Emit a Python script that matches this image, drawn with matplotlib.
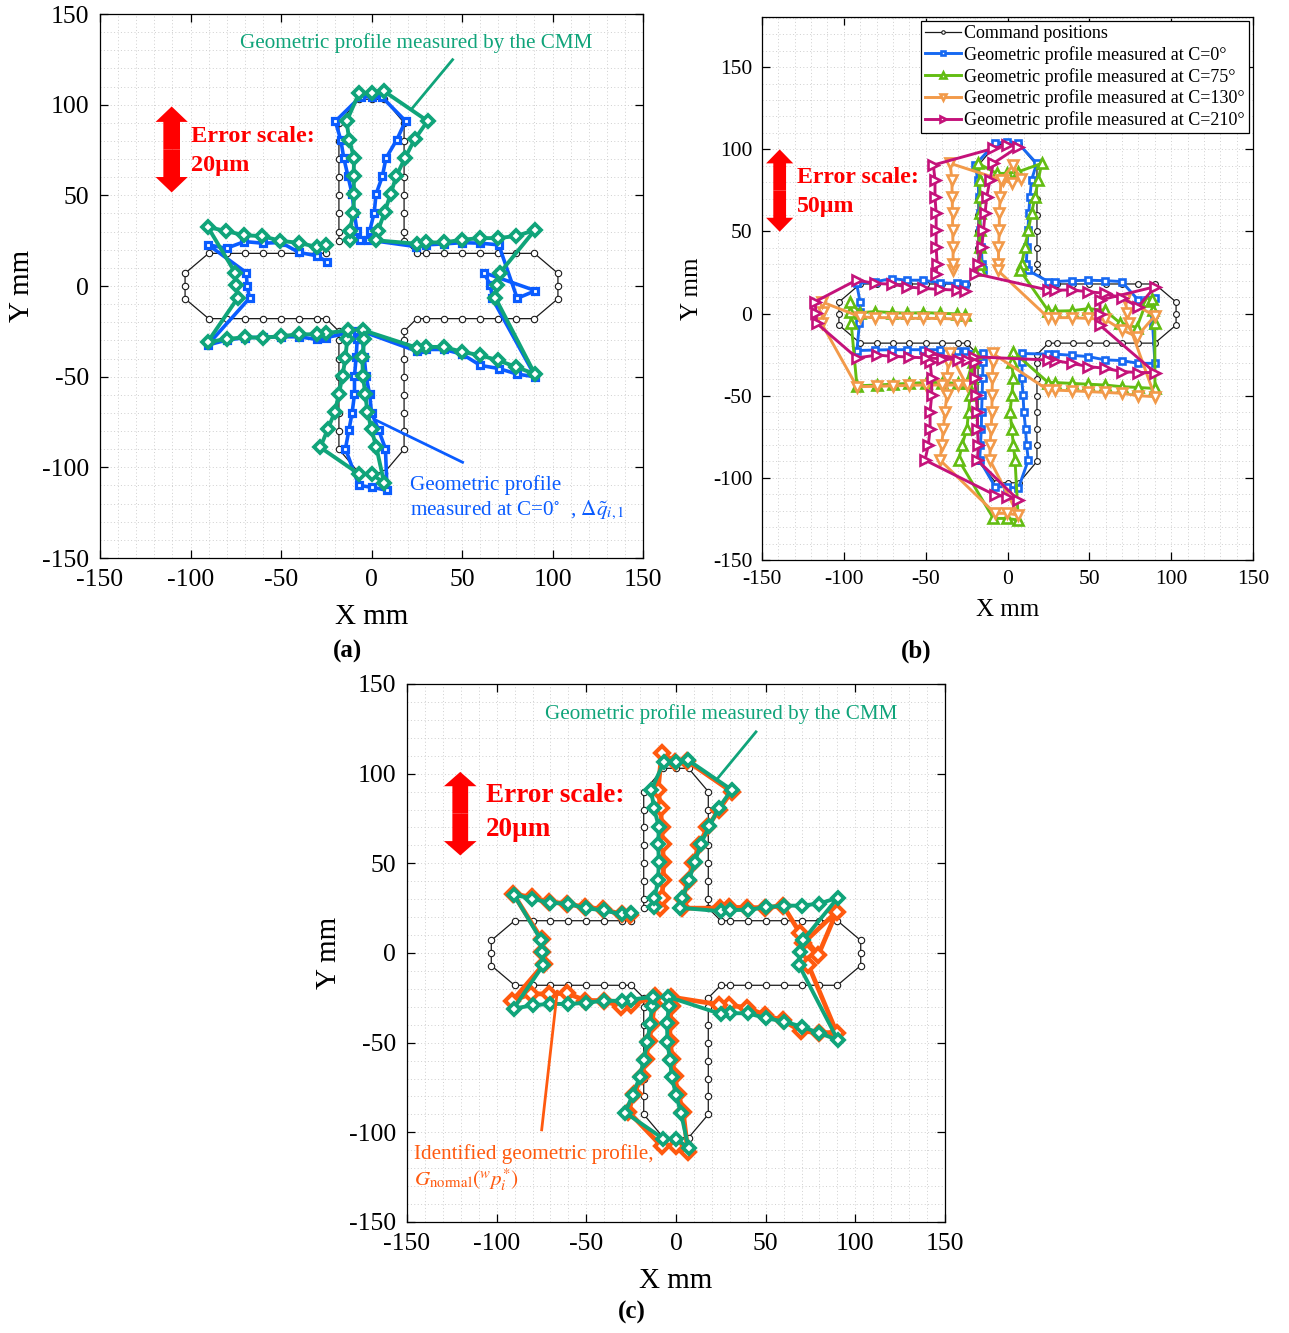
import matplotlib
matplotlib.use("Agg")
import matplotlib.pyplot as plt
from matplotlib.patches import FancyArrow
import numpy as np

plt.rcParams['font.family'] = ['Liberation Serif', 'DejaVu Serif']
plt.rcParams['mathtext.fontset'] = 'stix'
plt.rcParams['axes.unicode_minus'] = False

# ---------------------------------------------------------------- data (mm)
# Command path: top arm (left side up, tip, right side down), right arm
# (upper edge out, end cap, lower edge in), bottom arm, left arm.
CMD_X = [-18, -18, -18, -18, -18, -18, -18, -18, -7, 0, 7,
         18, 18, 18, 18, 18, 18, 18, 18,
         25, 30, 40, 50, 60, 70, 80, 90, 103, 103, 103,
         90, 80, 70, 60, 50, 40, 30, 25,
         18, 18, 18, 18, 18, 18, 18, 18, 7, 0, -7,
         -18, -18, -18, -18, -18, -18, -18, -18,
         -25, -30, -40, -50, -60, -70, -80, -90, -103, -103, -103,
         -90, -80, -70, -60, -50, -40, -30, -25]
CMD_Y = [25, 30, 40, 50, 60, 70, 80, 90, 103, 103, 103,
         90, 80, 70, 60, 50, 40, 30, 25,
         18, 18, 18, 18, 18, 18, 18, 18, 7, 0, -7,
         -18, -18, -18, -18, -18, -18, -18, -18,
         -25, -30, -40, -50, -60, -70, -80, -90, -103, -103, -103,
         -90, -80, -70, -60, -50, -40, -30, -25,
         -18, -18, -18, -18, -18, -18, -18, -18, -7, 0, 7,
         18, 18, 18, 18, 18, 18, 18, 18]

# CMM-measured profile (error-magnified), same point order as the command path
CMM_X = [-12.0, -12.0, -10.0, -9.6, -9.9, -9.6, -12.3, -13.8, -6.8, 0.2, 6.8,
         31.0, 23.8, 18.5, 13.8, 10.5, 7.3, 3.6, 2.5,
         25.0, 30.0, 40.0, 50.0, 60.0, 70.0, 80.0, 90.2, 71.0, 69.3, 68.5,
         90.2, 80.0, 70.0, 60.0, 50.0, 40.0, 30.0, 25.0,
         -4.6, -4.0, -5.0, -4.8, -3.4, -2.3, 0.0, 2.7, 7.0, 0.0, -7.0,
         -28.3, -24.2, -20.2, -18.0, -16.0, -14.4, -13.4, -12.8,
         -25.0, -30.0, -40.0, -50.0, -60.0, -70.0, -80.0, -90.6, -74.0, -74.8, -75.3,
         -90.4, -80.3, -70.5, -60.3, -50.3, -40.2, -30.1, -25.0]
CMM_Y = [25.4, 30.4, 40.5, 50.6, 60.6, 70.5, 80.7, 90.8, 106.5, 106.5, 107.5,
         91.0, 80.8, 70.6, 60.8, 50.6, 40.8, 30.5, 25.2,
         23.3, 24.0, 24.0, 25.5, 26.4, 26.4, 27.6, 30.8, 7.3, 0.6, -6.6,
         -48.5, -44.7, -41.0, -38.2, -36.3, -33.6, -33.6, -34.0,
         -24.4, -29.5, -39.2, -49.5, -59.5, -69.3, -79.1, -89.0, -108.7, -103.6, -103.6,
         -89.0, -79.1, -69.3, -59.5, -49.5, -39.5, -29.3, -24.4,
         -26.0, -26.7, -26.6, -27.7, -28.5, -28.3, -29.2, -31.0, -6.7, 0.4, 7.3,
         32.5, 30.3, 28.0, 27.5, 24.9, 23.8, 21.5, 22.4]

# On-machine profile at C=0 deg (panel a, 20 um scale)
C0A_X = [-6.6, -8.0, -9.5, -10.7, -13.0, -15.3, -17.0, -20.0, -6.0, 0.0, 6.0,
         18.8, 14.0, 8.0, 6.0, 2.5, 1.5, -1.0, -2.0,
         24.7, 30.2, 40.0, 50.1, 60.2, 70.3, 80.5, 90.6, 62.0, 65.7, 66.7,
         90.6, 80.5, 70.3, 60.2, 50.1, 40.0, 30.2, 25.2,
         -6.0, -5.0, -4.0, -3.0, -1.0, 0.0, 4.0, 7.7, 8.6, 0.4, -7.0,
         -14.4, -12.5, -10.7, -9.4, -9.4, -8.5, -7.9, -7.9,
         -25.0, -30.0, -40.0, -50.0, -60.0, -70.0, -80.0, -90.6, -67.4, -68.7, -69.2,
         -90.2, -80.1, -70.2, -60.0, -50.1, -40.0, -29.9, -24.8]
C0A_Y = [25.4, 30.4, 40.5, 50.6, 60.6, 70.5, 80.7, 90.8, 104.5, 104.5, 104.0,
         91.0, 80.7, 70.5, 60.5, 50.6, 40.4, 30.4, 25.4,
         21.7, 22.7, 23.2, 23.9, 23.6, 22.7, -6.8, -2.6, 7.4, 0.6, -6.8,
         -50.1, -48.6, -45.5, -43.8, -37.6, -35.0, -35.0, -36.0,
         -24.7, -29.5, -39.4, -49.7, -59.8, -69.8, -79.6, -89.7, -112.7, -111.0, -110.0,
         -89.7, -79.6, -69.8, -59.8, -49.7, -39.4, -29.5, -24.7,
         -28.5, -29.5, -28.0, -28.0, -28.3, -28.5, -29.8, -32.6, -6.7, 0.1, 7.4,
         22.7, 20.8, 24.5, 23.6, 24.0, 18.5, 16.6, 13.4]

# Identified geometric profile (panel c)
IDN_X = [-9.0, -8.0, -7.0, -7.0, -7.5, -8.0, -8.5, -10.0, -8.0, -0.6, 6.3,
         31.0, 24.0, 17.5, 12.8, 9.5, 6.5, 3.8, 3.5,
         24.5, 29.5, 39.6, 49.7, 59.8, 69.2, 79.4, 89.6, 71.0, 72.9, 73.8,
         89.6, 79.5, 69.6, 59.6, 49.7, 39.6, 29.4, 24.2,
         -3.0, -2.5, -3.5, -3.3, -2.0, -0.8, 1.3, 4.0, 6.6, -0.2, -8.0,
         -26.5, -23.5, -19.0, -17.0, -15.0, -13.5, -12.0, -11.5,
         -25.0, -30.4, -40.4, -50.6, -61.0, -71.0, -81.0, -91.5, -73.5, -74.5, -75.0,
         -90.7, -80.5, -70.7, -60.6, -50.8, -40.5, -30.3, -25.5]
IDN_Y = [25.0, 30.5, 40.6, 50.9, 61.0, 70.4, 80.7, 90.9, 111.5, 106.7, 107.0,
         90.0, 80.0, 70.0, 60.0, 50.0, 40.0, 30.0, 25.0,
         25.0, 25.5, 25.3, 25.3, 26.3, 11.0, -1.0, 23.0, 5.5, 0.7, -6.7,
         -44.4, -44.4, -43.5, -37.6, -34.7, -30.4, -29.2, -28.8,
         -24.5, -29.5, -39.0, -49.3, -59.1, -68.8, -78.6, -88.5, -110.7, -107.8, -107.8,
         -88.5, -78.6, -68.8, -59.1, -49.3, -39.5, -28.7, -24.0,
         -29.0, -30.0, -26.5, -26.5, -22.3, -23.0, -22.6, -27.0, -6.0, 0.8, 7.8,
         33.0, 31.0, 28.5, 27.5, 25.5, 24.5, 21.5, 21.0]

# Panel b: profiles at four C-axis angles (50 um scale)
C0_X = [-15.0, -15.5, -16.0, -16.5, -17.0, -17.5, -18.0, -19.9, -7.6, -0.5, 6.6,
        17.8, 14.7, 13.7, 13.0, 12.5, 12.0, 11.5, 12.5,
        24.9, 29.0, 39.2, 49.4, 59.6, 69.7, 79.9, 85.5, 90.1, 89.5, 88.7,
        90.1, 79.9, 69.7, 59.6, 49.4, 39.2, 29.0, 24.9,
        8.6, 9.0, 8.7, 9.5, 10.0, 11.0, 11.7, 12.7, 6.6, -0.5, -7.6,
        -17.0, -16.5, -16.0, -15.8, -15.5, -15.2, -15.0, -14.8,
        -25.9, -31.0, -41.2, -51.4, -61.6, -70.8, -81.0, -92.0, -90.5, -90.1, -90.1,
        -92.2, -81.0, -70.8, -61.6, -51.4, -41.2, -31.0, -25.9]
C0_Y = [26.3, 30.4, 40.5, 50.7, 60.9, 71.1, 81.3, 90.4, 103.6, 104.5, 103.6,
        91.4, 81.3, 71.1, 60.9, 50.7, 40.5, 30.4, 26.3,
        19.5, 19.5, 20.0, 20.3, 20.0, 19.5, 8.2, 8.5, 9.2, 0.0, -7.1,
        -30.3, -30.3, -28.6, -28.2, -26.2, -25.4, -24.7, -24.7,
        -24.3, -29.4, -39.5, -49.6, -59.8, -70.0, -80.2, -89.2, -106.4, -105.4, -105.4,
        -89.2, -80.2, -70.0, -59.8, -49.6, -39.5, -29.4, -24.3,
        -22.5, -22.5, -22.0, -22.0, -22.0, -22.0, -22.2, -22.5, -6.0, 1.0, 7.2,
        18.3, 19.3, 21.3, 20.3, 20.3, 18.7, 18.3, 17.9]

C75_X = [-16.5, -16.8, -17.0, -17.0, -16.8, -16.8, -17.0, -17.8, -6.6, -0.5, 6.6,
         20.9, 18.8, 16.8, 14.7, 12.7, 10.7, 8.7, 7.7,
         24.9, 29.0, 39.2, 49.4, 59.6, 68.5, 79.0, 85.0, 88.0, 89.0, 90.0,
         90.1, 79.9, 69.7, 59.6, 49.4, 39.2, 29.0, 24.9,
         3.5, 2.5, 3.6, 2.6, 1.6, 2.6, 3.6, 4.6, 6.6, -0.5, -8.6,
         -29.8, -27.8, -24.8, -23.8, -22.8, -21.8, -21.0, -20.0,
         -25.0, -30.0, -40.0, -50.0, -60.0, -70.0, -80.0, -92.0, -95.5, -96.0, -96.0,
         -90.0, -81.0, -70.8, -61.6, -51.4, -41.2, -31.0, -25.9]
C75_Y = [26.3, 30.4, 40.5, 50.7, 60.9, 71.1, 81.3, 91.4, 85.3, 85.3, 86.3,
         91.4, 81.3, 71.1, 60.9, 50.7, 40.5, 30.4, 26.3,
         1.7, 1.5, 1.7, 3.0, 2.0, -5.5, -8.5, 7.5, 9.0, 2.0, -6.0,
         -45.6, -45.0, -44.5, -43.5, -43.0, -42.5, -42.0, -42.0,
         -23.2, -29.3, -39.5, -49.6, -59.8, -70.0, -80.2, -89.2, -125.7, -124.7, -124.7,
         -89.2, -80.2, -70.0, -59.8, -49.6, -39.5, -29.4, -24.3,
         -42.5, -42.5, -42.0, -42.0, -42.5, -43.0, -43.5, -44.0, -6.0, 1.2, 7.2,
         0.5, 1.2, 0.6, 0.2, 0.6, 0.2, -0.2, -0.8]

C130_X = [-33.0, -33.2, -33.3, -33.5, -33.6, -33.8, -34.0, -35.0, -2.5, 2.5, 8.0,
          3.5, -4.0, -4.5, -5.0, -5.0, -5.5, -5.5, -6.0,
          24.9, 29.0, 39.2, 49.4, 59.6, 70.0, 79.0, 90.0, 72.0, 73.0, 74.0,
          90.1, 79.9, 69.7, 59.6, 49.4, 39.2, 29.0, 24.9,
          -9.0, -9.0, -9.2, -9.5, -9.5, -10.0, -10.7, -10.7, 6.6, -0.5, -7.6,
          -41.2, -40.2, -39.2, -38.2, -37.1, -37.1, -36.1, -35.1,
          -25.0, -30.0, -40.0, -50.0, -60.0, -70.0, -80.0, -92.0, -113.6, -113.0, -113.6,
          -90.0, -81.0, -70.8, -61.6, -51.4, -41.2, -31.0, -25.9]
C130_Y = [26.3, 30.4, 40.5, 50.7, 60.9, 71.1, 81.3, 91.4, 81.0, 79.5, 82.0,
          90.4, 81.3, 71.1, 60.9, 50.7, 40.5, 30.4, 26.3,
          -2.5, -2.5, -2.5, -3.0, -3.5, -10.0, -14.0, -1.4, 8.7, 0.6, -6.0,
          -50.6, -50.0, -48.5, -48.0, -47.5, -47.0, -46.6, -46.6,
          -24.3, -29.4, -39.5, -49.6, -59.8, -70.0, -80.2, -89.2, -122.6, -121.6, -121.6,
          -89.2, -80.2, -70.0, -59.8, -49.6, -39.5, -29.4, -24.3,
          -43.5, -43.5, -43.5, -43.5, -43.7, -44.0, -44.3, -44.5, -6.0, 1.2, 7.2,
          -2.0, -2.5, -2.5, -2.9, -2.9, -3.0, -3.3, -3.5]

C210_X = [-43.6, -43.0, -43.6, -43.6, -43.6, -44.3, -44.3, -45.3, -8.7, -0.5, 6.6,
          -8.7, -10.7, -12.7, -13.7, -14.7, -15.7, -17.8, -19.8,
          24.9, 29.0, 39.2, 49.4, 59.6, 69.7, 79.9, 90.1, 56.5, 56.5, 56.5,
          90.1, 79.9, 69.7, 59.6, 49.4, 39.2, 29.0, 24.9,
          -20.5, -20.0, -20.0, -19.2, -18.4, -18.4, -17.8, -18.4, 6.6, -0.5, -7.6,
          -50.4, -48.4, -47.3, -47.3, -46.3, -46.3, -47.3, -47.3,
          -25.0, -30.0, -40.0, -50.0, -60.0, -70.0, -80.0, -92.0, -116.6, -117.0, -117.6,
          -92.2, -81.0, -70.8, -61.6, -51.4, -41.2, -31.0, -25.9]
C210_Y = [24.3, 30.4, 40.5, 50.7, 60.9, 71.1, 81.3, 90.4, 100.5, 102.6, 101.5,
          91.4, 81.3, 71.1, 60.9, 50.7, 40.5, 30.4, 24.3,
          14.3, 14.3, 14.3, 13.3, 12.3, 9.5, 4.2, 16.3, 8.2, 0.0, -7.1,
          -35.9, -35.9, -35.3, -33.3, -32.3, -30.3, -28.7, -28.3,
          -26.3, -29.4, -39.5, -49.6, -59.8, -70.0, -80.2, -89.2, -113.5, -111.5, -110.5,
          -89.2, -80.2, -70.0, -59.8, -49.6, -39.5, -29.4, -24.3,
          -28.3, -28.0, -27.5, -27.0, -26.5, -26.0, -25.3, -27.0, -5.9, 0.6, 7.2,
          20.4, 18.3, 17.9, 16.3, 15.3, 14.7, 14.3, 13.9]

TICKS = [-150, -100, -50, 0, 50, 100, 150]

# ---------------------------------------------------------------- styles
GREEN = '#10a47a'
BLUE = '#0a5cff'
ORANGE_ID = '#ff5a0f'
B_BLUE = '#1769f2'
B_GREEN = '#63bd12'
B_ORANGE = '#f29a4a'
B_MAG = '#c4127a'
RED = '#ff0000'


def style_axes(ax, ylim, tick_fs, pad):
    ax.set_xlim(-150, 150)
    ax.set_ylim(*ylim)
    ax.set_xticks(TICKS)
    ax.set_yticks(TICKS)
    ax.set_xticks(np.arange(-150, 151, 10), minor=True)
    ax.set_yticks(np.arange(-150, int(ylim[1]) + 1, 10), minor=True)
    ax.grid(True, which='both', color='#cfcfcf', lw=0.7, ls=(0, (1, 2.5)))
    ax.set_axisbelow(True)
    ax.tick_params(which='major', direction='in', length=6, width=0.9,
                   top=True, right=True, labelsize=tick_fs, pad=pad)
    ax.tick_params(which='minor', length=0)
    for s in ax.spines.values():
        s.set_linewidth(0.9)


def draw_command(ax, ms=4.6):
    ax.plot(CMD_X, CMD_Y, '-', color='#1a1a1a', lw=0.9, marker='o', ms=ms,
            mfc='white', mec='#1a1a1a', mew=0.8, zorder=3,
            label='Command positions')


def double_arrow(ax, x, y0, y1, w, hw, hl):
    yc = 0.5 * (y0 + y1)
    for tip in (y0, y1):
        ax.add_patch(FancyArrow(x, yc, 0, tip - yc, width=w, head_width=hw,
                                head_length=hl, length_includes_head=True,
                                color=RED, lw=0, zorder=6))


fig = plt.figure(figsize=(12.89, 13.33), dpi=100)

# ---------------------------------------------------------------- (a)
ax_a = fig.add_axes([100 / 1289, 1 - 558 / 1333, 543 / 1289, 544 / 1333])
style_axes(ax_a, (-150, 150), 18.5, 8)
draw_command(ax_a)
ax_a.plot(C0A_X, C0A_Y, '-', color=BLUE, lw=2.6, marker='s', ms=5.0,
          mfc='white', mec=BLUE, mew=2.3, zorder=4)
ax_a.plot(CMM_X, CMM_Y, '-', color=GREEN, lw=2.8, marker='D', ms=6.4,
          mfc='white', mec=GREEN, mew=2.7, zorder=5)
double_arrow(ax_a, -110.4, 51.6, 99.0, 9.2, 17.8, 8.5)
ax_a.text(-99.5, 82.6, 'Error scale:', color=RED, fontsize=17.5,
          fontweight='bold', ha='left', va='center', zorder=7)
ax_a.text(-99.5, 66.6, '20µm', color=RED, fontsize=17.5,
          fontweight='bold', ha='left', va='center', zorder=7)
ax_a.text(-72.5, 134.2, 'Geometric profile measured by the CMM', color=GREEN,
          fontsize=15.2, ha='left', va='center', zorder=7)
ax_a.plot([44.8, 22.5], [124.8, 98.0], color=GREEN, lw=2.0, zorder=6)
ax_a.text(21.5, -110.0, 'Geometric profile', color=BLUE, fontsize=15.2,
          ha='left', va='center', zorder=7)
ax_a.text(21.5, -123.8, r'measured at C=0$^{\circ}$  , $\Delta\tilde{q}_{i,1}$',
          color=BLUE, fontsize=15.2, ha='left', va='center', zorder=7)
ax_a.plot([50.3, 2.5], [-97.2, -74.0], color=BLUE, lw=2.0, zorder=6)
ax_a.text(0.5, -0.108, 'X mm', transform=ax_a.transAxes, fontsize=21,
          ha='center', va='center')
ax_a.text(-0.143, 0.5, 'Y mm', transform=ax_a.transAxes, fontsize=21,
          ha='center', va='center', rotation=90)
fig.text(348 / 1289, 1 - 651 / 1333, '(a)', fontsize=18, fontweight='bold',
         ha='center', va='center')

# ---------------------------------------------------------------- (b)
ax_b = fig.add_axes([762 / 1289, 1 - 560 / 1333, 491 / 1289, 543 / 1333])
style_axes(ax_b, (-150, 180.5), 15.5, 7)
draw_command(ax_b, ms=4.2)
kw = dict(lw=2.1, mfc='white', mew=1.9, zorder=4)
ax_b.plot(C0_X, C0_Y, '-', color=B_BLUE, marker='s', ms=4.4, mec=B_BLUE,
          label='Geometric profile measured at C=0°', **kw)
ax_b.plot(C75_X, C75_Y, '-', color=B_GREEN, marker='^', ms=7.0, mec=B_GREEN,
          label='Geometric profile measured at C=75°', **kw)
ax_b.plot(C130_X, C130_Y, '-', color=B_ORANGE, marker='v', ms=7.0, mec=B_ORANGE,
          label='Geometric profile measured at C=130°', **kw)
ax_b.plot(C210_X, C210_Y, '-', color=B_MAG, marker='>', ms=7.0, mec=B_MAG,
          label='Geometric profile measured at C=210°', **kw)
double_arrow(ax_b, -139.2, 49.8, 99.9, 7.8, 16.6, 8.5)
ax_b.text(-128.8, 82.7, 'Error scale:', color=RED, fontsize=17.2,
          fontweight='bold', ha='left', va='center', zorder=7)
ax_b.text(-128.8, 65.4, '50µm', color=RED, fontsize=17.2,
          fontweight='bold', ha='left', va='center', zorder=7)
leg = ax_b.legend(loc='upper right', fontsize=13.0, frameon=True,
                  fancybox=False, edgecolor='black', framealpha=1,
                  borderpad=0.22, labelspacing=0.22, handlelength=2.0,
                  handletextpad=0.2, borderaxespad=0.22, markerscale=0.6)
leg.get_frame().set_linewidth(0.9)
ax_b.text(0.5, -0.093, 'X mm', transform=ax_b.transAxes, fontsize=18,
          ha='center', va='center')
ax_b.text(-0.142, 0.5, 'Y mm', transform=ax_b.transAxes, fontsize=18,
          ha='center', va='center', rotation=90)
fig.text(916 / 1289, 1 - 651 / 1333, '(b)', fontsize=18, fontweight='bold',
         ha='center', va='center')

# ---------------------------------------------------------------- (c)
ax_c = fig.add_axes([407 / 1289, 1 - 1222 / 1333, 538 / 1289, 538 / 1333])
style_axes(ax_c, (-150, 150), 18.5, 8)
draw_command(ax_c)
ax_c.plot(IDN_X, IDN_Y, '-', color=ORANGE_ID, lw=3.4, marker='D', ms=6.8,
          mfc='white', mec=ORANGE_ID, mew=2.9, zorder=4)
ax_c.plot(CMM_X, CMM_Y, '-', color=GREEN, lw=2.8, marker='D', ms=6.4,
          mfc='white', mec=GREEN, mew=2.7, zorder=5)
double_arrow(ax_c, -120.3, 54.4, 101.0, 8.8, 18.2, 8.0)
ax_c.text(-106.0, 87.7, 'Error scale:', color=RED, fontsize=19.5,
          fontweight='bold', ha='left', va='center', zorder=7)
ax_c.text(-106.0, 68.8, '20µm', color=RED, fontsize=19.5,
          fontweight='bold', ha='left', va='center', zorder=7)
ax_c.text(-73.0, 133.3, 'Geometric profile measured by the CMM', color=GREEN,
          fontsize=15.2, ha='left', va='center', zorder=7)
ax_c.plot([44.6, 22.5], [123.3, 96.5], color=GREEN, lw=2.0, zorder=6)
ax_c.text(-146.0, -112.0, 'Identified geometric profile,', color=ORANGE_ID,
          fontsize=15.2, ha='left', va='center', zorder=7)
ax_c.text(-146.0, -126.6, r'$G_{\mathrm{normal}}(^{w}p_i^{*})$',
          color=ORANGE_ID, fontsize=15.2, ha='left', va='center', zorder=7)
ax_c.plot([-66.2, -74.9], [-21.4, -98.6], color=ORANGE_ID, lw=2.0, zorder=6)
ax_c.text(0.5, -0.11, 'X mm', transform=ax_c.transAxes, fontsize=21,
          ha='center', va='center')
ax_c.text(-0.145, 0.5, 'Y mm', transform=ax_c.transAxes, fontsize=21,
          ha='center', va='center', rotation=90)
fig.text(632 / 1289, 1 - 1312 / 1333, '(c)', fontsize=18, fontweight='bold',
         ha='center', va='center')

fig.savefig('out.png', dpi=100, facecolor='white')
